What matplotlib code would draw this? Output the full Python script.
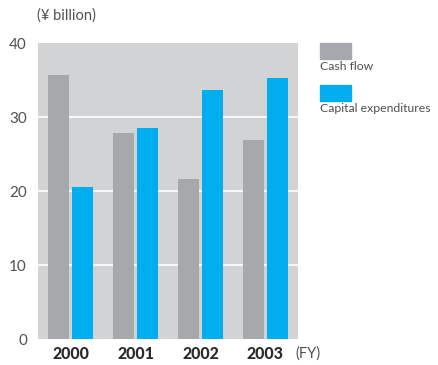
import numpy as np
import matplotlib.pyplot as plt
from matplotlib.patches import Rectangle

plt.rcParams['font.family'] = ['Lato', 'DejaVu Sans']

years = ['2000', '2001', '2002', '2003']
series_names = ['Cash flow', 'Capital expenditures']
cash_flow = [35.7, 27.9, 21.7, 26.9]
capex = [20.6, 28.5, 33.7, 35.3]

grey = '#a7a8ab'
blue = '#00aeef'
bg = '#d1d3d4'
txt = '#505050'

fig = plt.figure(figsize=(4.38, 3.65), dpi=100)
ax = fig.add_axes([38 / 438, 25.7 / 365, 260 / 438, 296 / 365])
ax.set_facecolor(bg)

x = np.arange(len(years))
w = 0.323
off = 0.177
ax.bar(x - off, cash_flow, w, color=grey, zorder=3)
ax.bar(x + off, capex, w, color=blue, zorder=3)

ax.set_xlim(-0.5, 3.5)
ax.set_ylim(0, 40)
ax.set_yticks([0, 10, 20, 30, 40])
for v in [10, 20, 30]:
    ax.axhline(v, color='white', lw=1.2, zorder=2)

ax.set_xticks(x)
ax.set_xticklabels(years, fontsize=11.5, fontweight='black', color='#2a2a2a')
ax.tick_params(axis='x', length=0, pad=5)
ax.tick_params(axis='y', length=0, pad=8, labelsize=11, labelcolor=txt)
for s in ax.spines.values():
    s.set_visible(False)

fig.text(37 / 438, 1 - 16 / 365, '(\u00a5 billion)', fontsize=10.5, color=txt,
         va='center', ha='left')
fig.text(295 / 438, 1 - 354 / 365, '(FY)', fontsize=10.5, color=txt,
         va='center', ha='left')

# legend blocks to the right of the plot
for i, (name, col) in enumerate(zip(series_names, [grey, blue])):
    top = 43 + i * 42
    fig.patches.append(Rectangle((320 / 438, 1 - (top + 16) / 365), 31 / 438, 16 / 365,
                                 transform=fig.transFigure, color=col))
    fig.text(320 / 438, 1 - (top + 24) / 365, name, fontsize=8.8, color=txt,
             va='center', ha='left')

fig.savefig('out.png', dpi=100)
